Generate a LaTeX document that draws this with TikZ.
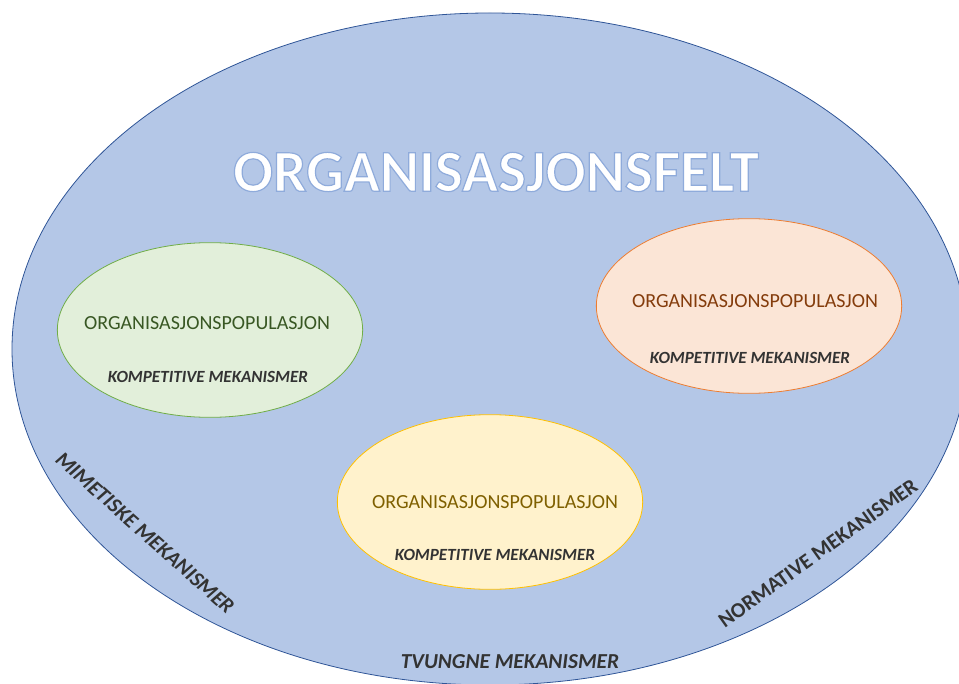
\documentclass[tikz,border=0pt]{standalone}
\usepackage{fontspec}
\setmainfont{Carlito}
\usetikzlibrary{shapes,backgrounds,calc}

\definecolor{fieldfill}{HTML}{B4C7E7}
\definecolor{fieldline}{HTML}{2F5597}
\definecolor{greenfill}{HTML}{E2EFDA}
\definecolor{greenline}{HTML}{70AD47}
\definecolor{greentext}{HTML}{385723}
\definecolor{orangefill}{HTML}{FBE5D6}
\definecolor{orangeline}{HTML}{ED7D31}
\definecolor{orangetext}{HTML}{843C0C}
\definecolor{yellowfill}{HTML}{FFF2CC}
\definecolor{yellowline}{HTML}{FFC000}
\definecolor{yellowtext}{HTML}{7F6000}
\definecolor{mechgray}{HTML}{333333}

% white letters with a thin blue outline
\newcommand{\outlined}[1]{\textcolor{white}{\special{pdf:literal direct 2 Tr 0.9 w 0.56 0.67 0.86 RG}#1\special{pdf:literal direct 0 Tr}}}

\begin{document}
\begin{tikzpicture}[x=0.75pt,y=-0.75pt]
        % Styles for the populations and the labels
        \tikzstyle{population}=[ellipse, draw, line width=0.6pt, minimum width=229pt, minimum height=131pt];
        \tikzstyle{poptext}=[font=\fontsize{15}{18}\selectfont];
        \tikzstyle{comptext}=[font=\fontsize{12.8}{15}\selectfont\bfseries\itshape, text=mechgray];
        \tikzstyle{mechtext}=[font=\fontsize{16}{19}\selectfont\bfseries, text=mechgray];
        \tikzstyle{mechslant}=[font=\fontsize{16}{19}\selectfont\bfseries\itshape, text=mechgray];

        % Page frame, the field runs past the right and bottom edges
        \clip (0,0) rectangle (959,684);

        % The organisational field
        \node[ellipse, draw=fieldline, fill=fieldfill, line width=0.6pt,
              minimum width=717pt, minimum height=504pt] (felt) at (490,349) {};
        \node[font=\fontsize{44.5}{50}\selectfont\bfseries] (tittel) at (496,172)
            {\outlined{ORGANISASJONSFELT}};

        % Green population
        \node[population, draw=greenline, fill=greenfill] (pop1) at (210,330) {};
        \node[poptext, text=greentext] (pop1navn) at (207,323) {ORGANISASJONSPOPULASJON};
        \node[comptext] (pop1mek) at (208,377) {KOMPETITIVE MEKANISMER};

        % Orange population
        \node[population, draw=orangeline, fill=orangefill] (pop2) at (749,306) {};
        \node[poptext, text=orangetext] (pop2navn) at (755,301) {ORGANISASJONSPOPULASJON};
        \node[comptext] (pop2mek) at (750,358) {KOMPETITIVE MEKANISMER};

        % Yellow population
        \node[population, draw=yellowline, fill=yellowfill] (pop3) at (490,502) {};
        \node[poptext, text=yellowtext] (pop3navn) at (495,502) {ORGANISASJONSPOPULASJON};
        \node[comptext] (pop3mek) at (495,555) {KOMPETITIVE MEKANISMER};

        % Mechanisms along the rim of the field
        \node[mechslant, rotate=-41.7] (mimetisk) at (145,533) {MIMETISKE MEKANISMER};
        \node[mechtext, rotate=35.6] (normativ) at (818,553) {NORMATIVE MEKANISMER};
        \node[mechslant] (tvungen) at (510,662) {TVUNGNE MEKANISMER};

    \end{tikzpicture}
\end{document}
